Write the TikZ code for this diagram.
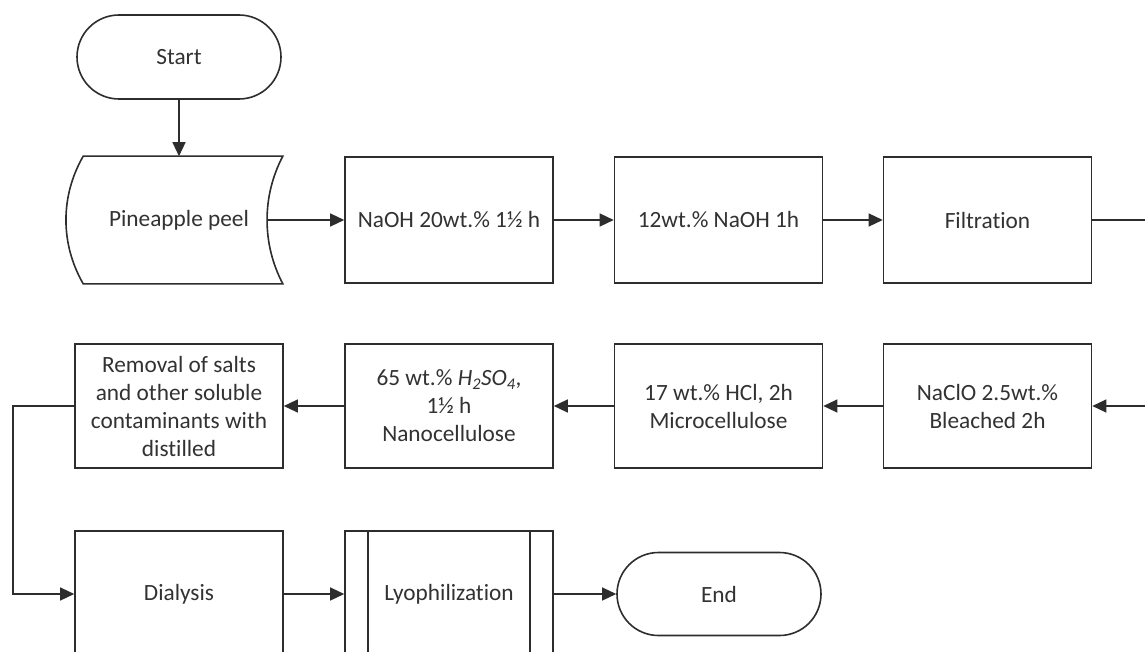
\documentclass[tikz,border=0pt]{standalone}
\usepackage{fontspec}
\setmainfont{Carlito}[Ligatures=NoCommon]
\usetikzlibrary{arrows.meta,shapes.misc}
\definecolor{ln}{RGB}{45,45,45}
\definecolor{tx}{RGB}{50,50,50}
\tikzset{
  base/.style={draw=ln,line width=1.6pt,fill=white,text=tx,align=center,
    font=\fontsize{23.3}{28}\selectfont,inner sep=2pt},
  procbox/.style={base,rectangle,minimum width=208pt,minimum height=126pt},
  termbox/.style={base,rounded rectangle,minimum width=208pt,minimum height=84pt},
  conn/.style={draw=ln,line width=1.3pt},
  arr/.style={conn,-{Triangle[length=14pt,width=13pt]}}
}
\begin{document}
\begin{tikzpicture}[x=1pt,y=-1pt]
\useasboundingbox (0,0) rectangle (1145,652);
\clip (0,0) rectangle (1145,652);
% row 1
\node[termbox] (start) at (179,57) {Start};
\node[procbox,draw=none,fill=none] (peel) at (179,220) {};
\draw[draw=ln,line width=1.6pt,fill=white]
  ([xshift=9pt]peel.north west) -- ([xshift=-1pt]peel.north east)
  .. controls ([xshift=-22pt,yshift=-40pt]peel.north east) and ([xshift=-22pt,yshift=40pt]peel.south east) .. ([xshift=-1pt]peel.south east)
  -- ([xshift=9pt]peel.south west)
  .. controls ([xshift=-14pt,yshift=40pt]peel.south west) and ([xshift=-14pt,yshift=-40pt]peel.north west) .. ([xshift=9pt]peel.north west) -- cycle;
\node[text=tx,font=\fontsize{23.3}{28}\selectfont] (peeltext) at (peel.center) {Pineapple peel};
\node[procbox] (naoh) at (449,220) {NaOH 20wt.\% 1½ h};
\node[procbox] (naoh2) at (718.5,220) {12wt.\% NaOH 1h};
\node[procbox] (filt) at (987.5,220) {Filtration};
\coordinate (r1) at (1146,220);
\coordinate (r2) at (1146,406);
% row 2
\node[procbox,minimum height=124pt] (naclo) at (987.5,406) {NaClO 2.5wt.\%\\Bleached 2h};
\node[procbox,minimum height=124pt] (hcl) at (718.5,406) {17 wt.\% HCl, 2h\\Microcellulose};
\node[procbox,minimum height=124pt] (h2so4) at (449,406) {65 wt.\% \textit{H\textsubscript{2}SO\textsubscript{4}},\\1½ h\\Nanocellulose};
\node[procbox,minimum height=124pt] (removal) at (179,406) {Removal of salts\\and other soluble\\contaminants with\\distilled};
% row 3
\node[procbox] (dialysis) at (179,594) {Dialysis};
\node[procbox] (lyo) at (449,594) {Lyophilization};
\draw[draw=ln,line width=1.6pt] ([xshift=24pt]lyo.north west) -- ([xshift=24pt]lyo.south west);
\draw[draw=ln,line width=1.6pt] ([xshift=-24pt]lyo.north east) -- ([xshift=-24pt]lyo.south east);
\node[termbox,minimum height=83pt] (end) at (719,594) {End};
% connectors
\draw[arr] (start.south) -- (peel.north);
\draw[arr] ([xshift=-16pt]peel.east) -- (naoh.west);
\draw[arr] (naoh.east) -- (naoh2.west);
\draw[arr] (naoh2.east) -- (filt.west);
\draw[conn] (filt.east) -- (r1);
\draw[arr] (r2) -- (naclo.east);
\draw[arr] (naclo.west) -- (hcl.east);
\draw[arr] (hcl.west) -- (h2so4.east);
\draw[arr] (h2so4.west) -- (removal.east);
\draw[arr] (removal.west) -- (13,406) |- (dialysis.west);
\draw[arr] (dialysis.east) -- (lyo.west);
\draw[arr] (lyo.east) -- (end.west);
\end{tikzpicture}
\end{document}
